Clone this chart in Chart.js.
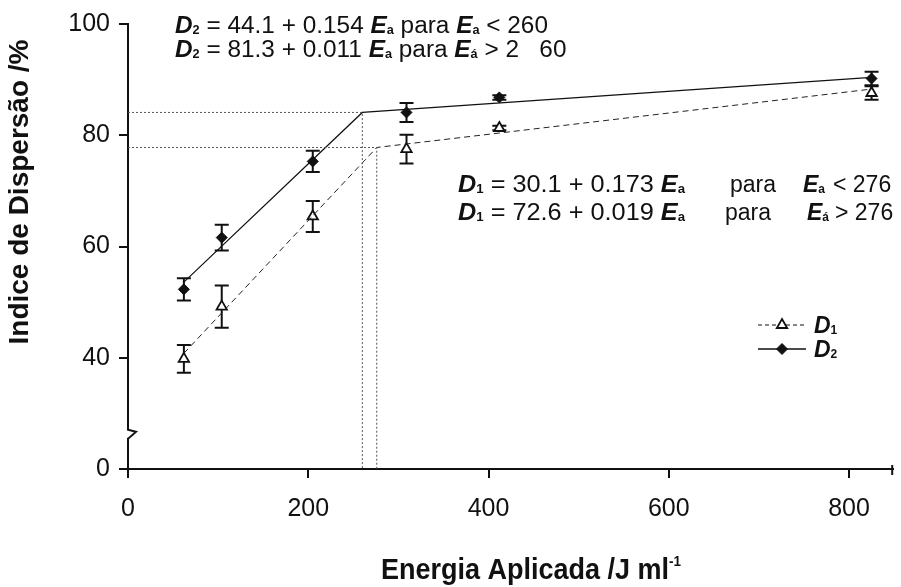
<!DOCTYPE html>
<html>
<head>
<meta charset="utf-8">
<script src="https://cdn.jsdelivr.net/npm/chart.js@4.4.1/dist/chart.umd.min.js"></script>
<style>
  html, body { margin: 0; padding: 0; background: #fff; }
  #wrap { width: 901px; height: 587px; }
</style>
</head>
<body>
<div id="wrap"><canvas id="c" width="901" height="587"></canvas></div>
<script>
// ---- data ----
const energy   = [62, 104, 205, 309, 412, 825];
const d1Values = [39.8, 49.2, 65.4, 77.5, 81.3, 87.6];
const d1Errors = [2.5, 3.8, 2.8, 2.6, 0.4, 1.2];
const d2Values = [52.3, 61.6, 75.3, 84.1, 86.8, 90.2];
const d2Errors = [2.0, 2.3, 1.9, 1.7, 0.4, 1.2];

// piecewise fits (start, break, end)
const d1FitX = [62, 276, 825];
const d1FitY = [40.8, 77.8, 88.3];
const d2FitX = [62, 260, 825];
const d2FitY = [53.6, 84.1, 90.4];

// dotted guide lines to the break points
const d1GuideX = [0, 276, 276];
const d1GuideY = [77.8, 77.8, 20];
const d2GuideX = [0, 260, 260];
const d2GuideY = [84.1, 84.1, 20];

const xTicks = [0, 200, 400, 600, 800];
const yTicks = [20, 40, 60, 80, 100];
const yTickLabels = ['0', '40', '60', '80', '100'];

const FONT = '"Liberation Sans", Arial, Helvetica, sans-serif';

function pts(xs, ys) { return xs.map((x, i) => ({ x: x, y: ys[i] })); }

function drawRich(ctx, x, y, segs, size, sx) {
  ctx.save();
  ctx.translate(x, y);
  ctx.scale(sx, 1);
  ctx.textBaseline = 'alphabetic';
  ctx.textAlign = 'left';
  ctx.fillStyle = '#111';
  let cx = 0;
  for (const s of segs) {
    let fs = size, dy = 0;
    if (s.sub) { fs = Math.round(size * 0.5); dy = size * 0.06; }
    if (s.sup) { fs = Math.round(size * 0.5); dy = -size * 0.42; }
    ctx.font = (s.i ? 'italic ' : '') + (s.b ? 'bold ' : '') + fs + 'px ' + FONT;
    ctx.fillText(s.t, cx, dy);
    cx += ctx.measureText(s.t).width;
  }
  ctx.restore();
}

const D = (n) => [{ t: 'D', b: 1, i: 1 }, { t: n, b: 1, sub: 1 }];
const Ea = (acc) => [{ t: 'E', b: 1, i: 1 }, { t: acc ? 'á' : 'a', b: 1, sub: 1 }];

const annotations = [
  { x: 175, y: 33, size: 23, sx: 1.06, segs: [...D('2'), { t: ' = 44.1 + 0.154 ' }, ...Ea(), { t: ' para ' }, ...Ea(), { t: ' < 260' }] },
  { x: 175, y: 57, size: 23, sx: 1.06, segs: [...D('2'), { t: ' = 81.3 + 0.011 ' }, ...Ea(), { t: ' para ' }, ...Ea(true), { t: ' > 2   60' }] },
  { x: 458, y: 192, size: 23, sx: 1.1, segs: [...D('1'), { t: ' = 30.1 + 0.173 ' }, ...Ea()] },
  { x: 730, y: 192, size: 23, sx: 1.0, segs: [{ t: 'para' }] },
  { x: 803, y: 192, size: 23, sx: 1.0, segs: Ea() },
  { x: 833, y: 192, size: 23, sx: 1.0, segs: [{ t: '< 276' }] },
  { x: 458, y: 220, size: 23, sx: 1.1, segs: [...D('1'), { t: ' = 72.6 + 0.019 ' }, ...Ea()] },
  { x: 725, y: 220, size: 23, sx: 1.0, segs: [{ t: 'para' }] },
  { x: 807, y: 220, size: 23, sx: 1.0, segs: Ea(true) },
  { x: 835, y: 220, size: 23, sx: 1.0, segs: [{ t: '> 276' }] }
];

const extras = {
  id: 'extras',
  beforeDatasetsDraw(chart) {
    const ctx = chart.ctx, xs = chart.scales.x, ys = chart.scales.y;
    ctx.save();
    ctx.strokeStyle = '#111';
    ctx.lineWidth = 2;
    const bars = (vals, errs) => {
      vals.forEach((v, i) => {
        const px = xs.getPixelForValue(energy[i]);
        const top = ys.getPixelForValue(v + errs[i]);
        const bot = ys.getPixelForValue(v - errs[i]);
        ctx.beginPath();
        ctx.moveTo(px, top); ctx.lineTo(px, bot);
        ctx.moveTo(px - 7, top); ctx.lineTo(px + 7, top);
        ctx.moveTo(px - 7, bot); ctx.lineTo(px + 7, bot);
        ctx.stroke();
      });
    };
    bars(d1Values, d1Errors);
    bars(d2Values, d2Errors);
    ctx.restore();
  },
  afterDraw(chart) {
    const ctx = chart.ctx, area = chart.chartArea, ys = chart.scales.y;
    ctx.save();
    // axis break on y
    const yb = ys.getPixelForValue(26.5);
    ctx.fillStyle = '#fff';
    ctx.fillRect(area.left - 3, yb - 5, 6, 10);
    ctx.strokeStyle = '#111';
    ctx.lineWidth = 2;
    ctx.beginPath();
    ctx.moveTo(area.left, yb - 6);
    ctx.lineTo(area.left, yb - 3);
    ctx.lineTo(area.left + 8, yb - 1);
    ctx.lineTo(area.left, yb + 6);
    ctx.lineTo(area.left, yb + 9);
    ctx.stroke();
    // end mark of x axis
    ctx.beginPath();
    ctx.moveTo(area.right - 1, area.bottom - 4);
    ctx.lineTo(area.right - 1, area.bottom + 6);
    ctx.stroke();

    // y title
    ctx.save();
    ctx.translate(28, 192);
    ctx.rotate(-Math.PI / 2);
    ctx.font = 'bold 28px ' + FONT;
    ctx.fillStyle = '#111';
    ctx.textAlign = 'center';
    ctx.textBaseline = 'alphabetic';
    ctx.fillText('Indice de Dispersão /%', 0, 0);
    ctx.restore();

    // x title
    drawRich(ctx, 381, 579, [{ t: 'Energia Aplicada /J ml', b: 1 }, { t: '-1', b: 1, sup: 1 }], 30, 0.9);

    // equations
    annotations.forEach(a => drawRich(ctx, a.x, a.y, a.segs, a.size, a.sx));

    // legend lines
    ctx.strokeStyle = '#111';
    ctx.lineWidth = 1.2;
    ctx.setLineDash([4, 3]);
    ctx.beginPath(); ctx.moveTo(758, 325); ctx.lineTo(806, 325); ctx.stroke();
    ctx.setLineDash([]);
    ctx.lineWidth = 1.6;
    ctx.beginPath(); ctx.moveTo(758, 349); ctx.lineTo(806, 349); ctx.stroke();
    ctx.restore();

    // legend markers, using the options of the library's point elements
    const mark = (meta, x, y) => {
      const o = meta.data[0].options;
      ctx.save();
      ctx.fillStyle = o.backgroundColor;
      ctx.strokeStyle = o.borderColor;
      ctx.lineWidth = o.borderWidth;
      Chart.helpers.drawPoint(ctx, o, x, y);
      ctx.restore();
    };
    mark(chart.getDatasetMeta(4), 782, 325);
    mark(chart.getDatasetMeta(5), 782, 349);
    drawRich(ctx, 814, 333, D('1'), 23, 1.0);
    drawRich(ctx, 814, 357, D('2'), 23, 1.0);
  }
};

new Chart(document.getElementById('c'), {
  type: 'scatter',
  data: {
    datasets: [
      { data: pts(d2GuideX, d2GuideY), showLine: true, borderColor: '#555', borderWidth: 1, borderDash: [2, 2], pointRadius: 0, tension: 0 },
      { data: pts(d1GuideX, d1GuideY), showLine: true, borderColor: '#555', borderWidth: 1, borderDash: [2, 2], pointRadius: 0, tension: 0 },
      { data: pts(d2FitX, d2FitY), showLine: true, borderColor: '#111', borderWidth: 1.2, pointRadius: 0, tension: 0 },
      { data: pts(d1FitX, d1FitY), showLine: true, borderColor: '#222', borderWidth: 1, borderDash: [6, 4], pointRadius: 0, tension: 0 },
      { label: 'D1', data: pts(energy, d1Values), showLine: false, pointStyle: 'triangle', pointRadius: 6, pointBackgroundColor: '#fff', pointBorderColor: '#111', pointBorderWidth: 1.8 },
      { label: 'D2', data: pts(energy, d2Values), showLine: false, pointStyle: 'rectRot', pointRadius: 5.5, pointBackgroundColor: '#111', pointBorderColor: '#111', pointBorderWidth: 1 }
    ]
  },
  options: {
    responsive: false,
    animation: false,
    devicePixelRatio: 1,
    layout: { padding: { left: 0, right: 7, top: 16, bottom: 0 } },
    plugins: { legend: { display: false }, tooltip: { enabled: false } },
    scales: {
      x: {
        type: 'linear', min: 0, max: 849,
        afterBuildTicks: s => { s.ticks = xTicks.map(v => ({ value: v })); },
        afterFit: s => { s.height = 118; },
        ticks: { font: { family: FONT, size: 25 }, color: '#111', padding: 16, maxRotation: 0, autoSkip: false, includeBounds: false },
        grid: { drawOnChartArea: false, drawTicks: true, tickLength: 9, color: '#111', lineWidth: 2 },
        border: { display: true, color: '#111', width: 2 }
      },
      y: {
        type: 'linear', min: 20, max: 100,
        afterBuildTicks: s => { s.ticks = yTicks.map(v => ({ value: v })); },
        afterFit: s => { s.width = 128; },
        ticks: { font: { family: FONT, size: 25 }, color: '#111', padding: 9, autoSkip: false, includeBounds: false,
                 callback: v => yTickLabels[yTicks.indexOf(v)] },
        grid: { drawOnChartArea: false, drawTicks: true, tickLength: 9, color: '#111', lineWidth: 2 },
        border: { display: true, color: '#111', width: 2 }
      }
    }
  },
  plugins: [extras]
});
</script>
</body>
</html>
